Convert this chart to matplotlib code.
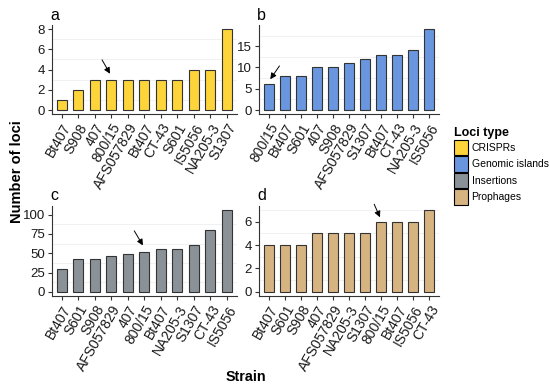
import matplotlib.pyplot as plt
from matplotlib.patches import Patch
from matplotlib.ticker import MultipleLocator

plt.rcParams['font.family'] = ['Liberation Sans', 'DejaVu Sans']

# data
crispr_strains = ['Bt407', 'S908', '407', '800/15', 'AFS057829', 'Bt407', 'CT-43', 'S601', 'IS5056', 'NA205-3', 'S1307']
crispr_counts = [1, 2, 3, 3, 3, 3, 3, 3, 4, 4, 8]

gi_strains = ['800/15', 'Bt407', 'S601', '407', 'S908', 'AFS057829', 'S1307', 'Bt407', 'CT-43', 'NA205-3', 'IS5056']
gi_counts = [6, 8, 8, 10, 10, 11, 12, 13, 13, 14, 19]

ins_strains = ['Bt407', 'S601', 'S908', 'AFS057829', '407', '800/15', 'Bt407', 'NA205-3', 'S1307', 'CT-43', 'IS5056']
ins_counts = [30, 42, 42, 46, 49, 51, 55, 55, 61, 80, 106]

pro_strains = ['Bt407', 'S601', 'S908', '407', 'AFS057829', 'NA205-3', 'S1307', '800/15', 'Bt407', 'IS5056', 'CT-43']
pro_counts = [4, 4, 4, 5, 5, 5, 5, 6, 6, 6, 7]

loci_types = ['CRISPRs', 'Genomic islands', 'Insertions', 'Prophages']
colors = ['#FDD43A', '#6A96E0', '#8A9298', '#D7B382']

fig = plt.figure(figsize=(5.5, 3.92), dpi=100)

# panel boxes in figure fractions
boxes = [
    [0.0945, 0.709, 0.336, 0.227],
    [0.471, 0.709, 0.327, 0.227],
    [0.0945, 0.245, 0.336, 0.230],
    [0.471, 0.245, 0.327, 0.230],
]
panels = [
    ('a', crispr_strains, crispr_counts, colors[0], 2, 1, (2.35, 5.2), (3, 3.35)),
    ('b', gi_strains, gi_counts, colors[1], 5, 2.5, (0.77, 10.9), (0, 6.7)),
    ('c', ins_strains, ins_counts, colors[2], 25, 12.5, (4.3, 82), (5, 57)),
    ('d', pro_strains, pro_counts, colors[3], 2, 1, (6.5, 7.7), (7, 6.15)),
]

for box, (letter, strains, counts, col, major, minor, tail, tip) in zip(boxes, panels):
    ax = fig.add_axes(box)
    x = list(range(len(strains)))
    ax.bar(x, counts, width=0.6, color=col, edgecolor='#333333', linewidth=0.8, zorder=3)
    top = max(counts)
    ax.set_ylim(-0.05 * top, top * 1.05)
    ax.set_xlim(-0.6, len(strains) - 0.4)
    ax.yaxis.set_major_locator(MultipleLocator(major))
    ax.yaxis.set_minor_locator(MultipleLocator(minor))
    ax.grid(axis='y', which='minor', color='#EFEFEF', linewidth=0.6, zorder=0)
    ax.tick_params(axis='y', which='minor', length=0)
    ax.set_xticks(x)
    ax.set_xticklabels(strains, rotation=60, ha='right', va='top', rotation_mode='anchor')
    ax.tick_params(axis='both', color='#333333', length=3, width=0.8, pad=2)
    ax.tick_params(axis='x', labelsize=10, labelcolor='#1a1a1a')
    ax.tick_params(axis='y', labelsize=9.5, labelcolor='#1a1a1a')
    for s in ['top', 'right']:
        ax.spines[s].set_visible(False)
    for s in ['left', 'bottom']:
        ax.spines[s].set_color('#333333')
        ax.spines[s].set_linewidth(0.8)
    ax.set_title(letter, loc='left', fontsize=11.5, pad=4, x=-0.01)
    ax.annotate('', xy=tip, xytext=tail,
                arrowprops=dict(arrowstyle='-|>', color='black', lw=0.7, mutation_scale=9), zorder=5)

fig.text(0.031, 0.561, 'Number of loci', rotation=90, ha='center', va='center',
         fontsize=10.5, fontweight='bold')
fig.text(0.447, 0.037, 'Strain', ha='center', va='center', fontsize=10.3, fontweight='bold')

handles = [Patch(facecolor=c, edgecolor='black', linewidth=0.8) for c in colors]
leg = fig.legend(handles, loci_types, loc='upper left', bbox_to_anchor=(0.812, 0.695),
                 frameon=False, prop={'size': 7.5}, title='Loci type', handlelength=1.35,
                 handleheight=1.9, handletextpad=0.35, labelspacing=0.1, borderpad=0.2)
leg.get_title().set_fontweight('bold')
leg.get_title().set_fontsize(9)
leg._legend_box.align = 'left'

fig.savefig('out.png', dpi=100)
